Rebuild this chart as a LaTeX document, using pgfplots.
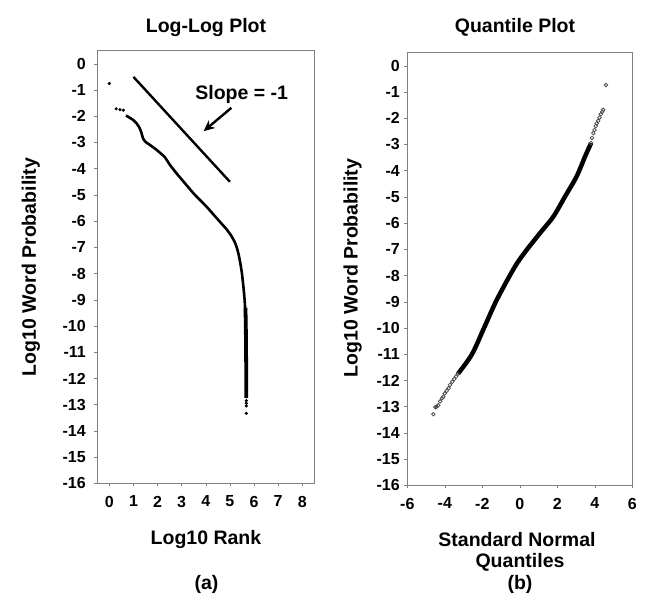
\documentclass[border=0pt]{standalone}
\usepackage{fontspec}
\setmainfont{Liberation Sans}
\usepackage{pgfplots}
\pgfplotsset{compat=1.18}
\usetikzlibrary{arrows.meta}

\newcommand{\tickfont}{\bfseries\fontsize{16}{19}\selectfont}
\newcommand{\labfont}{\bfseries\fontsize{19.5}{23}\selectfont}

\pgfplotsset{
  panel/.style={
    anchor=south west, scale only axis,
    ymin=-16, ymax=0.5, ytick={-16,...,0},
    yticklabels={-16,-15,-14,-13,-12,-11,-10,-9,-8,-7,-6,-5,-4,-3,-2,-1,0},
    axis line style={gray}, tick style={gray, thin},
    tick align=outside, major tick length=3pt,
    xtick pos=bottom, ytick pos=left,
    ticklabel style={font=\tickfont},
    xticklabel style={yshift=-6pt},
    clip=false,
  }
}

\begin{document}
\begin{tikzpicture}[x=1pt,y=1pt]
\path (0,0) rectangle (665,602);

% (a) log-log plot
\begin{axis}[panel, at={(97.3pt,118.7pt)}, width=217pt, height=432.6pt,
  xmin=-0.5, xmax=8.5, xtick={0,...,8},
  xticklabels={0,1,2,3,4,5,6,7,8},
  yticklabel style={xshift=-5pt}]
\addplot[black, line width=2.6pt, line join=round, smooth, tension=0.3] coordinates {
  (0.69,-1.97) (0.83,-2.05) (0.97,-2.13) (1.11,-2.25) (1.25,-2.44) (1.32,-2.60)
  (1.40,-2.85) (1.50,-2.98) (1.66,-3.08) (1.94,-3.27) (2.29,-3.55) (2.50,-3.84)
  (2.77,-4.16) (3.12,-4.54) (3.50,-4.95) (4.03,-5.45) (4.30,-5.73)
  (4.58,-6.02) (4.85,-6.30) (5.05,-6.55) (5.20,-6.80) (5.30,-7.05)
  (5.38,-7.35) (5.45,-7.70) (5.50,-8.00) (5.56,-8.50) (5.61,-9.00)
  (5.64,-9.50) (5.66,-10.0)
};
\addplot[black, line width=3.8pt] coordinates {
  (5.645,-9.3) (5.66,-10.0) (5.67,-11.0) (5.68,-12.0) (5.68,-12.75)
};
\addplot[only marks, mark=*, mark size=1.4pt, black] coordinates {
  (0,-0.75) (0.28,-1.72) (0.44,-1.75) (0.58,-1.77)
  (5.68,-12.85) (5.68,-12.95) (5.68,-13.05) (5.68,-13.33)
};
\addplot[black, line width=2.4pt] coordinates {(1,-0.5) (5,-4.5)};
\draw[black, line width=2.4pt, -{Stealth[length=11pt,width=10pt]}]
  (axis cs:5.06,-1.68) -- (axis cs:3.91,-2.57);
\node[font=\labfont] at (axis cs:5.49,-1.18) {Slope = -1};
\end{axis}

% (b) quantile plot
\begin{axis}[panel, at={(407.3pt,116.7pt)}, width=225pt, height=432.6pt,
  xmin=-6, xmax=6, xtick={-6,-4,...,6},
  xticklabels={-6,-4,-2,0,2,4,6},
  yticklabel style={xshift=-1pt}]
\addplot[black, line width=4.5pt, line join=round, smooth, tension=0.5] coordinates {
  (-3.30,-11.75) (-2.55,-11.0) (-1.89,-9.97) (-1.23,-8.93)
  (-0.26,-7.66) (0.37,-7.02) (1.08,-6.38) (1.79,-5.75)
  (2.41,-4.99) (3.03,-4.22) (3.48,-3.46) (3.80,-2.95)
};
\addplot[only marks, mark=o, mark size=1.8pt, gray!60!black, thick] coordinates {
  (-3.30,-11.75) (-3.40,-11.85) (-3.50,-11.95) (-3.60,-12.05) (-3.72,-12.17)
  (-3.80,-12.30) (-3.90,-12.40) (-4.00,-12.50) (-4.08,-12.62)
  (-4.15,-12.68) (-4.25,-12.80) (-4.35,-12.95) (-4.43,-13.00)
  (-4.50,-13.02) (-4.61,-13.29)
  (3.80,-2.95) (3.85,-2.75) (3.92,-2.57) (3.98,-2.45) (4.05,-2.30)
  (4.10,-2.19) (4.18,-2.10) (4.25,-1.98) (4.32,-1.85) (4.40,-1.75)
  (4.45,-1.68) (4.60,-0.73)
};
\end{axis}

% titles and labels
\node[font=\labfont, anchor=base] at (206,569) {Log-Log Plot};
\node[font=\labfont, anchor=base] at (515,569) {Quantile Plot};
\node[font=\labfont, rotate=90] at (31,335) {Log10 Word Probability};
\node[font=\labfont, rotate=90] at (352.5,334) {Log10 Word Probability};
\node[font=\labfont, anchor=base] at (206,57) {Log10 Rank};
\node[font=\labfont, anchor=base] at (517,55) {Standard Normal};
\node[font=\labfont, anchor=base] at (520,34) {Quantiles};
\node[font=\labfont, anchor=base] at (206.5,12) {(a)};
\node[font=\labfont, anchor=base] at (520,12) {(b)};
\end{tikzpicture}
\end{document}
